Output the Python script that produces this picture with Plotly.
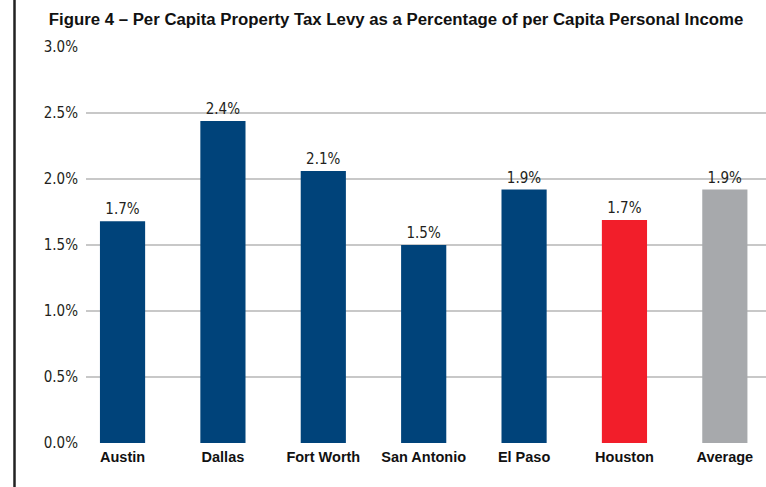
import plotly.graph_objects as go

cities = ["Austin", "Dallas", "Fort Worth", "San Antonio", "El Paso", "Houston", "Average"]
levy_pct = [1.68, 2.44, 2.06, 1.50, 1.92, 1.69, 1.92]
bar_colors = ["#00437a", "#00437a", "#00437a", "#00437a", "#00437a", "#f21e2a", "#a7a9ac"]
labels = [f"{v:.1f}%" for v in levy_pct]
y_ticks = [0, 0.5, 1.0, 1.5, 2.0, 2.5, 3.0]
y_ticktext = [f"{v:.1f}%" for v in y_ticks]

REG_FONT = "DejaVu Sans Condensed, Liberation Sans, Arial, sans-serif"

fig = go.Figure()
fig.add_trace(go.Bar(
    x=list(range(len(cities))),
    y=levy_pct,
    width=0.45,
    marker=dict(color=bar_colors, line=dict(width=0)),
    text=labels,
    textposition="outside",
    cliponaxis=False,
    textfont=dict(family=REG_FONT, size=15, color="#231f20"),
    hoverinfo="skip",
))

fig.update_layout(
    width=766, height=487,
    margin=dict(l=86, r=0, t=47, b=44),
    paper_bgcolor="white", plot_bgcolor="white",
    showlegend=False,
    title=dict(
        text="Figure 4 – Per Capita Property Tax Levy as a Percentage of per Capita Personal Income",
        font=dict(family="Liberation Sans, Arial, sans-serif", size=16.8, color="#111111", weight="bold"),
        xref="container", x=396 / 766, xanchor="center",
        yref="container", y=1 - 19 / 487, yanchor="middle",
    ),
    xaxis=dict(
        range=[-0.364, 6.41],
        tickmode="array",
        tickvals=list(range(len(cities))),
        ticktext=cities,
        tickfont=dict(family="Liberation Sans, Arial, sans-serif", size=14.5, color="#111111", weight="bold"),
        showgrid=False, zeroline=False, showline=False, ticks="",
        ticklabelstandoff=3,
        fixedrange=True,
    ),
    yaxis=dict(
        range=[0, 3.0],
        tickmode="array",
        tickvals=y_ticks,
        ticktext=y_ticktext,
        tickfont=dict(family=REG_FONT, size=15, color="#231f20"),
        showgrid=True, gridcolor="#c8c8c8", gridwidth=2,
        zeroline=False, showline=False, ticks="",
        ticklabelstandoff=7,
        fixedrange=True,
    ),
    shapes=[dict(
        type="line", xref="paper", yref="paper",
        x0=(14.5 - 86) / 680, x1=(14.5 - 86) / 680,
        y0=-0.2, y1=1.2,
        line=dict(color="#222222", width=2.5),
    )],
)

fig.write_html("out.html", config={"displayModeBar": False},
               post_script="document.body.style.margin='0';")
